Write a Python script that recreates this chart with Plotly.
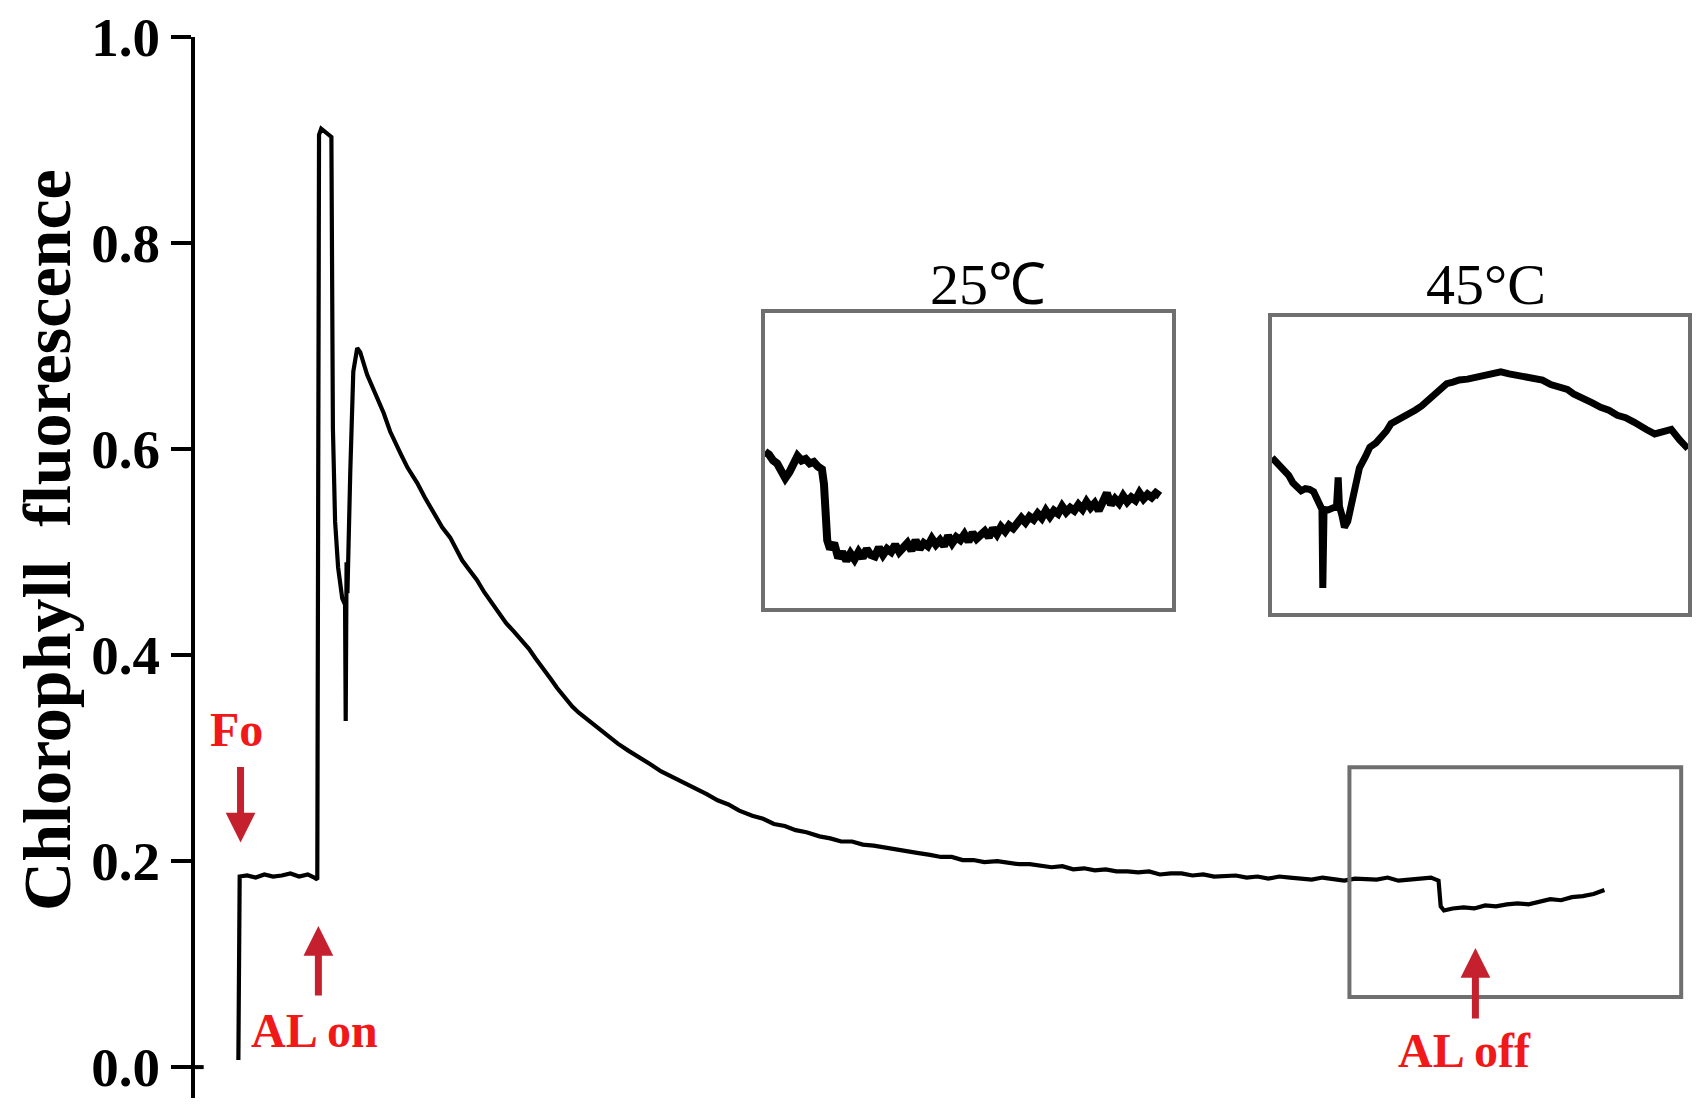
import plotly.graph_objects as go

# main trace, time (s) vs chlorophyll fluorescence (rel.), split by phase
induct_t = [0, 0.6, 4, 8, 12, 16, 20, 24, 28, 32, 35, 36.4, 37.2, 38.2, 42.9, 43.6, 44.6, 46.0,
            47.9, 49.2, 49.5, 49.9, 50.3, 51.6, 53.0, 54.8, 56.2]
induct_f = [0.007, 0.185, 0.186, 0.184, 0.187, 0.185, 0.186, 0.188, 0.185, 0.187, 0.184, 0.182,
            0.905, 0.911, 0.903, 0.62, 0.53, 0.485, 0.455, 0.449, 0.336, 0.49, 0.46, 0.577,
            0.675, 0.698, 0.694]

decay_t = [59.4, 61.8, 64.1, 67, 70, 72.4, 74.7, 78, 82.5, 86, 89.9, 94, 97.7, 100, 103.2, 106,
           110, 113.4, 117, 120, 123.5, 127, 130, 134, 137, 140, 144, 147, 150, 154, 157, 160,
           165, 170, 175, 180, 185, 190, 195, 200, 206, 211, 216, 221, 226, 231, 237, 242, 247,
           252, 257, 262, 268, 273, 278, 283, 288, 293, 298, 303, 308, 313]
decay_f = [0.672, 0.660, 0.650, 0.635, 0.617, 0.605, 0.596, 0.582, 0.567, 0.553, 0.538, 0.524,
           0.514, 0.504, 0.492, 0.484, 0.473, 0.461, 0.450, 0.440, 0.431, 0.423, 0.416, 0.406,
           0.397, 0.389, 0.377, 0.368, 0.360, 0.350, 0.344, 0.339, 0.330, 0.322, 0.314, 0.307,
           0.301, 0.294, 0.287, 0.282, 0.275, 0.271, 0.265, 0.259, 0.255, 0.249, 0.244, 0.241,
           0.236, 0.234, 0.230, 0.228, 0.224, 0.222, 0.219, 0.219, 0.216, 0.215, 0.213, 0.212,
           0.209, 0.208]

steady_t = [319, 324, 329, 334, 339, 344, 350, 355, 360, 365, 370, 375, 380, 385, 390, 395, 400,
            405, 410, 415, 420, 425, 430, 435, 440, 445, 450, 455, 460, 465, 470, 475, 480, 485,
            490, 495, 500, 505, 510, 515, 520, 525, 530, 535, 540, 545, 550, 553.5]
steady_f = [0.206, 0.204, 0.204, 0.201, 0.201, 0.199, 0.200, 0.198, 0.197, 0.197, 0.195, 0.194,
            0.195, 0.192, 0.193, 0.191, 0.192, 0.190, 0.190, 0.189, 0.190, 0.187, 0.188, 0.188,
            0.186, 0.187, 0.185, 0.186, 0.186, 0.184, 0.185, 0.183, 0.185, 0.184, 0.183, 0.182,
            0.184, 0.183, 0.181, 0.183, 0.182, 0.182, 0.184, 0.181, 0.182, 0.183, 0.184, 0.181]

dark_t = [554.5, 556, 560, 565, 570, 575, 580, 585, 590, 595, 600, 605, 610, 615, 620, 625, 630]
dark_f = [0.156, 0.152, 0.154, 0.155, 0.154, 0.157, 0.156, 0.158, 0.159, 0.158, 0.161, 0.163,
          0.162, 0.165, 0.166, 0.168, 0.172]

# inset 25 °C (relative units)
in25_x = [0, 1, 2, 3, 4, 5, 6, 7, 8, 9, 10, 11, 12, 13, 14, 14.5, 15, 15.3, 16, 17, 18, 19, 20,
          21, 22, 23, 24, 25, 26, 27, 28, 29, 30, 31, 32, 33, 34, 35, 36, 37, 38, 39, 40, 41, 42,
          43, 44, 45, 46, 47, 48, 49, 50, 51, 52, 53, 54, 55, 56, 57, 58, 59, 60, 61, 62, 63, 64,
          65, 66, 67, 68, 69, 70, 71, 72, 73, 74, 75, 76, 77, 78, 79, 80, 81, 82, 83, 84, 85, 86,
          87, 88, 89, 90, 91, 92, 93, 94, 95, 96, 97]
in25_y = [0.53, 0.52, 0.50, 0.49, 0.465, 0.44, 0.46, 0.49, 0.515, 0.50, 0.505, 0.49, 0.495, 0.48,
          0.47, 0.42, 0.30, 0.23, 0.20, 0.22, 0.17, 0.19, 0.16, 0.185, 0.165, 0.19, 0.17, 0.20,
          0.18, 0.175, 0.205, 0.18, 0.20, 0.19, 0.215, 0.19, 0.205, 0.22, 0.195, 0.23, 0.20, 0.22,
          0.21, 0.235, 0.215, 0.23, 0.21, 0.245, 0.22, 0.24, 0.23, 0.25, 0.225, 0.255, 0.235, 0.25,
          0.26, 0.24, 0.27, 0.25, 0.275, 0.26, 0.28, 0.27, 0.29, 0.305, 0.29, 0.31, 0.30, 0.32,
          0.305, 0.33, 0.31, 0.33, 0.32, 0.345, 0.325, 0.34, 0.33, 0.35, 0.335, 0.36, 0.34, 0.355,
          0.33, 0.36, 0.39, 0.35, 0.37, 0.355, 0.38, 0.36, 0.375, 0.365, 0.39, 0.37, 0.385, 0.375,
          0.39, 0.38]

# inset 45 °C (relative units)
in45_x = [0, 1, 2, 3, 4, 5, 6, 7, 8, 9, 10, 10.7, 11.5, 12.0, 12.2, 12.5, 13.5, 14.5, 15.5, 15.9,
          16.2, 16.8, 17.4, 18.2, 19, 20, 21, 22.5, 23.5, 25, 26.3, 27.5, 28.6, 30, 31.5, 33, 34.5,
          36, 37.5, 39, 40.5, 42, 43.5, 45, 47, 49, 51, 53, 55, 57, 59, 61, 63, 65, 67, 69, 71,
          72.5, 74, 75.5, 77, 79, 81, 83, 85, 87, 88.5, 90, 92, 94, 96, 98, 100]
in45_y = [0.525, 0.51, 0.49, 0.48, 0.465, 0.44, 0.425, 0.413, 0.42, 0.418, 0.41, 0.39, 0.356,
          0.35, 0.085, 0.35, 0.348, 0.356, 0.36, 0.458, 0.36, 0.33, 0.29, 0.31, 0.36, 0.43, 0.49,
          0.53, 0.56, 0.575, 0.595, 0.615, 0.64, 0.65, 0.662, 0.672, 0.686, 0.70, 0.72, 0.74,
          0.76, 0.775, 0.78, 0.787, 0.79, 0.797, 0.803, 0.81, 0.815, 0.808, 0.804, 0.797, 0.795,
          0.787, 0.772, 0.765, 0.755, 0.74, 0.728, 0.72, 0.71, 0.695, 0.685, 0.668, 0.66, 0.645,
          0.635, 0.62, 0.605, 0.61, 0.62, 0.585, 0.555]

y_ticks = [0.0, 0.2, 0.4, 0.6, 0.8, 1.0]

SERIF = "Liberation Serif, Times New Roman, serif"
FRAME = "#6f6f6f"
ARROW_RED = "#c4202e"
TEXT_RED = "#f01818"

main_t = induct_t + decay_t + steady_t + dark_t
main_f = induct_f + decay_f + steady_f + dark_f

fig = go.Figure()
fig.add_trace(go.Scatter(x=main_t, y=main_f, mode="lines",
                         line=dict(color="black", width=4.2), xaxis="x", yaxis="y"))
fig.add_trace(go.Scatter(x=in25_x, y=in25_y, mode="lines",
                         line=dict(color="black", width=8), xaxis="x2", yaxis="y2"))
fig.add_trace(go.Scatter(x=in45_x, y=in45_y, mode="lines",
                         line=dict(color="black", width=7), xaxis="x3", yaxis="y3"))

inset_axis = dict(showline=True, mirror=True, linecolor=FRAME, linewidth=4,
                  showgrid=False, zeroline=False, showticklabels=False, ticks="")

# page body has an 8px default margin, so margins are shifted to compensate
fig.update_layout(
    width=1702, height=1114,
    margin=dict(l=187, r=8, t=29, b=24),
    paper_bgcolor="white", plot_bgcolor="rgba(0,0,0,0)",
    showlegend=False,
    font=dict(family=SERIF, color="black"),
    xaxis=dict(range=[-20, 675], visible=False),
    yaxis=dict(range=[-0.03, 1.0], tickvals=y_ticks, tickformat=".1f",
               showline=True, linecolor="black", linewidth=4,
               ticks="outside", ticklen=20, tickwidth=4, tickcolor="black",
               showgrid=False, zeroline=False, automargin=False,
               ticklabeloverflow="allow",
               tickfont=dict(family=SERIF, size=55, color="black", weight="bold")),
    xaxis2=dict(domain=[0.3782, 0.6483], range=[0, 100], anchor="y2", **inset_axis),
    yaxis2=dict(domain=[0.4618, 0.7399], range=[0, 1], anchor="x2", **inset_axis),
    xaxis3=dict(domain=[0.7147, 0.9907], range=[0, 100], anchor="y3", **inset_axis),
    yaxis3=dict(domain=[0.4571, 0.7361], range=[0, 1], anchor="x3", **inset_axis),
)

# zoom box around AL off
fig.add_shape(type="rect", xref="x", yref="y", x0=512.4, x1=665.4, y0=0.068, y1=0.291,
              line=dict(color=FRAME, width=4))
# short stub on the inner side of the axis at 0.0
fig.add_shape(type="line", xref="x", yref="y", x0=-20, x1=-16, y0=0, y1=0,
              line=dict(color="black", width=4))

notes = [
    dict(text="Chlorophyll  fluorescence", x=-0.0982, y=0.526, textangle=-90,
         font=dict(size=68, weight="bold")),
    dict(text="25℃", x=0.526, y=0.767, font=dict(size=58)),
    dict(text="45°C", x=0.857, y=0.767, font=dict(size=58)),
]
for n in notes:
    fig.add_annotation(xref="paper", yref="paper", showarrow=False,
                       xanchor="center", yanchor="middle", **n)

for label, tx, ty in [("Fo", -0.9, 0.328), ("AL on", 35, 0.036), ("AL off", 565.4, 0.0165)]:
    fig.add_annotation(x=tx, y=ty, xref="x", yref="y", text=label, showarrow=False,
                       font=dict(family=SERIF, size=48, color=TEXT_RED, weight="bold"))

# red arrows: (tip x, tip y, tail offset in px)
for ax_t, ax_y, off in [(1.0, 0.218, -77), (36.9, 0.137, 71), (570.5, 0.1155, 72)]:
    fig.add_annotation(x=ax_t, y=ax_y, xref="x", yref="y", text="", showarrow=True,
                       ax=0, ay=off, arrowhead=2, arrowsize=0.85, arrowwidth=7,
                       arrowcolor=ARROW_RED, standoff=0)

fig.write_html("out.html")
